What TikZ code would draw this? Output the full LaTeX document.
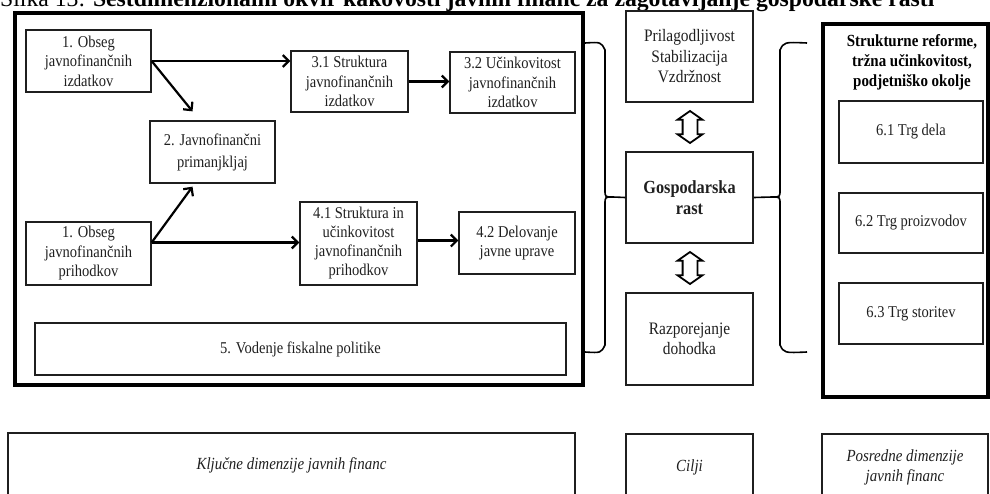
\documentclass[tikz,border=0pt]{standalone}
\usepackage{fontspec}
\setmainfont[FakeStretch=0.88]{Liberation Serif}
\newfontfamily\titlefont{Liberation Serif}
\usetikzlibrary{arrows.meta,shapes.arrows,calc}
\definecolor{ink}{gray}{0.12}
\begin{document}
\begin{tikzpicture}[x=1pt,y=-1pt,
  box/.style={draw=ink, line width=1.3pt, rectangle, inner sep=0pt, align=center,
    text=ink, font=\fontsize{16.5}{19.5}\selectfont},
  midbox/.style={box, line width=1.5pt, minimum width=127pt, font=\fontsize{17.5}{20.5}\selectfont},
  thickframe/.style={draw=black, line width=4.5pt, rectangle, inner sep=0pt},
  arr/.style={draw=black, line width=2.2pt, -{Straight Barb[length=6pt,width=12pt,line width=2.2pt]}},
  brace/.style={draw=black, line width=1.6pt},
  dblarrow/.style={draw=black, line width=1.8pt, double arrow, rotate=90,
    minimum height=32pt, double arrow head extend=5pt, double arrow tip angle=110,
    inner sep=0pt, double arrow head indent=0pt},
  lowbox/.style={box, line width=1.3pt, font=\fontsize{17}{20}\selectfont\itshape}
]
\useasboundingbox (0,0) rectangle (990,493);

% title (cut by the page top)
\node[anchor=base west, inner sep=0pt, text=black, font=\titlefont\fontsize{23.7}{28}\selectfont] (title) at (0,6)
  {Slika 13: \textbf{Šestdimenzionalni okvir kakovosti javnih financ za zagotavljanje gospodarske rasti}};

% big frame
\node[thickframe, minimum width=568pt, minimum height=372pt] (big) at (299,199) {};

\node[box, minimum width=125pt, minimum height=62pt] (o1) at (88.5,61) {1. Obseg\\javnofinančnih\\izdatkov};
\node[box, minimum width=125pt, minimum height=62pt, font=\fontsize{16.5}{22}\selectfont] (o2) at (212.5,152) {2. Javnofinančni\\primanjkljaj};
\node[box, minimum width=125pt, minimum height=63pt] (o1b) at (88.5,253.5) {1. Obseg\\javnofinančnih\\prihodkov};
\node[box, minimum width=117pt, minimum height=61pt] (s31) at (349.5,81.5) {3.1 Struktura\\javnofinančnih\\izdatkov};
\node[box, minimum width=125pt, minimum height=61pt] (s32) at (512.5,82.5) {3.2 Učinkovitost\\javnofinančnih\\izdatkov};
\node[box, minimum width=117pt, minimum height=83pt, font=\fontsize{16.5}{19}\selectfont] (s41) at (358.5,243.5) {4.1 Struktura in\\učinkovitost\\javnofinančnih\\prihodkov};
\node[box, minimum width=116pt, minimum height=62pt] (s42) at (517,243) {4.2 Delovanje\\javne uprave};
\node[box, minimum width=531pt, minimum height=52pt] (s5) at (300.5,349) {5. Vodenje fiskalne politike};

% arrows
\draw[arr] (o1.east) -- (o1.east -| s31.west);
\draw[arr] (o1.east) -- ([xshift=-20pt,yshift=9pt]o2.north);
\draw[arr] ([yshift=11pt]o1b.east) -- ([xshift=-20pt,yshift=-3pt]o2.south);
\draw[arr] ([yshift=11pt]o1b.east) -- ([yshift=11pt]o1b.east -| s41.west);
\draw[arr] (s31.east) -- (s31.east -| s32.west);
\draw[arr] ([yshift=3pt]s41.east) -- ([yshift=3pt]s41.east -| s42.west);

% middle column
\node[midbox, minimum height=91pt] (pri) at (689.5,56.5) {Prilagodljivost\\Stabilizacija\\Vzdržnost};
\node[midbox, minimum height=91pt, font=\fontsize{18.5}{21}\selectfont\bfseries] (gosp) at (689.5,197.5) {Gospodarska\\rast};
\node[midbox, minimum height=92pt] (razp) at (689.5,339) {Razporejanje\\dohodka};
\node[dblarrow] (da1) at (690,127) {\rule{0pt}{13pt}};
\node[dblarrow] (da2) at (690,268) {\rule{0pt}{13pt}};

% braces
\draw[brace] (585,43) .. controls (601,42) .. (605,50) -- (605,190) .. controls (605,197) .. (613,197) -- (gosp.west);
\draw[brace] (613,197) .. controls (605,197) .. (605,204) -- (605,345) .. controls (601,353) .. (585,352);
\draw[brace] (807,43) .. controls (784,42) .. (780,50) -- (780,190) .. controls (780,197) .. (772,197) -- (gosp.east);
\draw[brace] (772,197) .. controls (780,197) .. (780,204) -- (780,345) .. controls (784,353) .. (807,352);

% right frame
\node[thickframe, line width=4pt, minimum width=165pt, minimum height=373pt] (rb) at (905.5,210.5) {};
\node[align=center, inner sep=0pt, text=black, font=\fontsize{17}{20}\selectfont\bfseries] (head) at (912,62)
  {Strukturne reforme,\\tržna učinkovitost,\\podjetniško okolje};
\node[box, minimum width=144pt, minimum height=62pt] (t61) at (911,132) {6.1 Trg dela};
\node[box, minimum width=144pt, minimum height=60pt] (t62) at (911,223) {6.2 Trg proizvodov};
\node[box, minimum width=144pt, minimum height=61pt] (t63) at (911,313.5) {6.3 Trg storitev};

% bottom labels
\node[lowbox, minimum width=567pt, minimum height=64pt] (kl) at (291.5,465) {Ključne dimenzije javnih financ};
\node[lowbox, minimum width=127pt, minimum height=66pt] (ci) at (689.5,467) {Cilji};
\node[lowbox, minimum width=166pt, minimum height=66pt] (po) at (905,467) {Posredne dimenzije\\javnih financ};
\end{tikzpicture}
\end{document}
